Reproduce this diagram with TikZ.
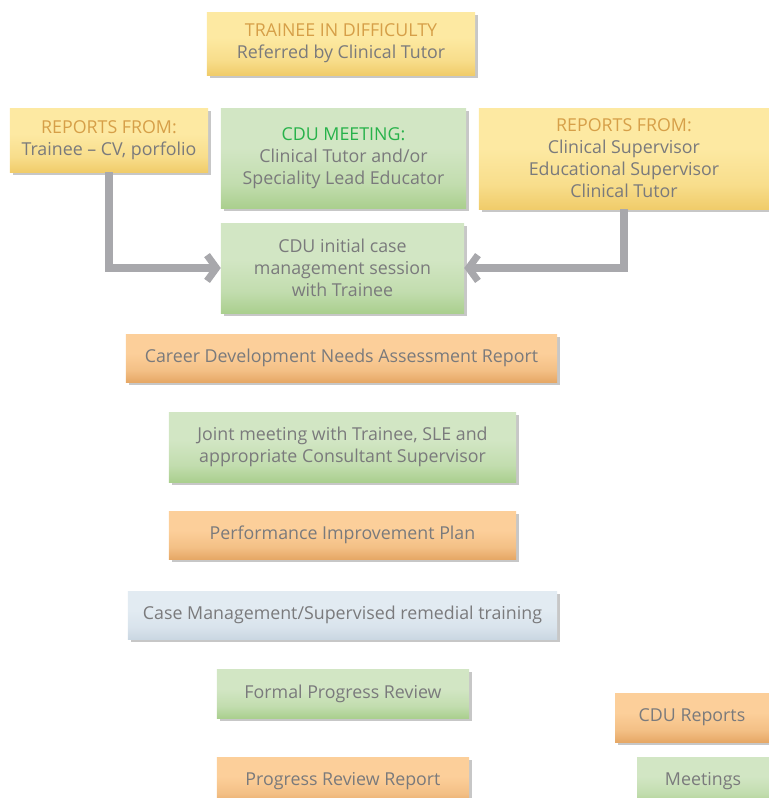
\documentclass[tikz,border=0pt]{standalone}
\usepackage{fontspec}
\setmainfont{Open Sans}
\usetikzlibrary{arrows.meta,shadows}

\definecolor{txtgrey}{RGB}{122,122,124}
\definecolor{headorange}{RGB}{214,159,72}
\definecolor{headgreen}{RGB}{39,178,74}
\definecolor{arrgrey}{RGB}{168,168,172}
\definecolor{yelTop}{RGB}{253,233,162}
\definecolor{yelBot}{RGB}{240,204,106}
\definecolor{grnTop}{RGB}{210,230,196}
\definecolor{grnBot}{RGB}{170,207,142}
\definecolor{orgTop}{RGB}{252,207,154}
\definecolor{orgBot}{RGB}{230,168,102}
\definecolor{bluTop}{RGB}{226,235,242}
\definecolor{bluBot}{RGB}{202,215,226}

% visible part of a tikz shading is 25bp..75bp
\pgfdeclareverticalshading{yelshade}{100bp}{color(0bp)=(yelBot); color(25bp)=(yelBot);
  color(37bp)=(yelTop!60!yelBot); color(55bp)=(yelTop); color(100bp)=(yelTop)}
\pgfdeclareverticalshading{grnshade}{100bp}{color(0bp)=(grnBot); color(25bp)=(grnBot);
  color(37bp)=(grnTop!60!grnBot); color(55bp)=(grnTop); color(100bp)=(grnTop)}
\pgfdeclareverticalshading{orgshade}{100bp}{color(0bp)=(orgBot); color(25bp)=(orgBot);
  color(37bp)=(orgTop!60!orgBot); color(55bp)=(orgTop); color(100bp)=(orgTop)}
\pgfdeclareverticalshading{blushade}{100bp}{color(0bp)=(bluBot); color(25bp)=(bluBot);
  color(37bp)=(bluTop!60!bluBot); color(55bp)=(bluTop); color(100bp)=(bluTop)}

\tikzset{
  box/.style={rectangle, inner sep=2pt, align=center, text=txtgrey,
    font=\fontsize{15.2}{18.8}\selectfont,
    drop shadow={shadow xshift=2.5pt, shadow yshift=-2.5pt, opacity=1, fill=black!22}},
  yellowbox/.style={box, shading=yelshade},
  greenbox/.style={box, shading=grnshade},
  orangebox/.style={box, shading=orgshade},
  bluebox/.style={box, shading=blushade},
  flowline/.style={draw=arrgrey, line width=6pt,
    -{Straight Barb[length=8pt, width=22pt]}},
}
\newcommand{\headtext}[2]{\textcolor{#1}{#2}}

\begin{document}
\begin{tikzpicture}[x=0.03cm, y=-0.03cm]
  \useasboundingbox (0,0) rectangle (769,798);

  % top row
  \node[yellowbox, minimum width=8.04cm, minimum height=1.89cm] (referral) at (341,43.5)
    {\headtext{headorange}{TRAINEE IN DIFFICULTY}\\Referred by Clinical Tutor};
  \node[yellowbox, minimum width=5.94cm, minimum height=1.92cm] (tnrep) at (109,140)
    {\headtext{headorange}{REPORTS FROM:}\\Trainee -- CV, porfolio};
  \node[greenbox, minimum width=7.35cm, minimum height=3cm] (cdumeet) at (343.5,158)
    {\headtext{headgreen}{CDU MEETING:}\\Clinical Tutor and/or\\Speciality Lead Educator};
  \node[yellowbox, minimum width=8.7cm, minimum height=3.03cm] (suprep) at (624,158.5)
    {\headtext{headorange}{REPORTS FROM:}\\Clinical Supervisor\\Educational Supervisor\\Clinical Tutor};

  % main column
  \node[greenbox, minimum width=7.29cm, minimum height=2.7cm] (session) at (342.5,268)
    {CDU initial case\\management session\\with Trainee};
  \node[orangebox, minimum width=12.93cm, minimum height=1.44cm] (needs) at (341.5,358)
    {Career Development Needs Assessment Report};
  \node[greenbox, minimum width=10.41cm, minimum height=2.1cm] (joint) at (342.5,447)
    {Joint meeting with Trainee, SLE and\\appropriate Consultant Supervisor};
  \node[orangebox, minimum width=10.41cm, minimum height=1.44cm] (pip) at (342.5,535)
    {Performance Improvement Plan};
  \node[bluebox, minimum width=12.87cm, minimum height=1.44cm] (remedial) at (342.5,615)
    {Case Management/Supervised remedial training};
  \node[greenbox, minimum width=7.56cm, minimum height=1.47cm] (review) at (343,693.5)
    {Formal Progress Review};
  \node[orangebox, minimum width=7.56cm, minimum height=1.44cm] (reviewrep) at (343,781)
    {Progress Review Report};

  % key
  \node[orangebox, minimum width=4.62cm, minimum height=1.47cm] (keyrep) at (692,717.5)
    {CDU Reports};
  \node[greenbox, minimum width=3.96cm, minimum height=1.44cm] (keymeet) at (703,781)
    {Meetings};

  \draw[flowline] (tnrep.south) |- (session.west);
  \draw[flowline] (suprep.south) |- (session.east);
\end{tikzpicture}
\end{document}
